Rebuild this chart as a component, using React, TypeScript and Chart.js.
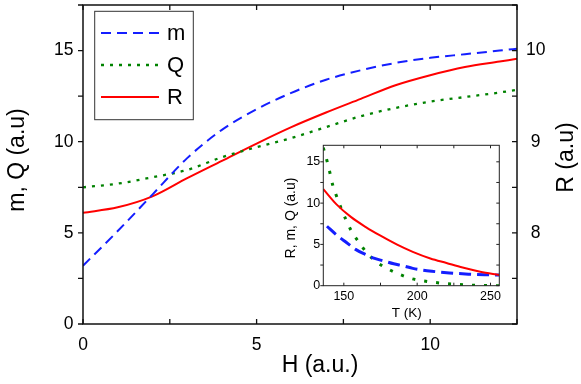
import React, { useEffect, useRef } from 'react';
import { Chart, registerables } from 'chart.js';

Chart.register(...registerables);

// ---------- main chart data ----------
const H_VALUES = [0, 1, 2, 3, 4, 5, 6, 7, 8, 9, 10, 11, 12, 12.5];
const M_VALUES = [3.2, 5.1, 7.1, 9.1, 10.65, 11.78, 12.68, 13.4, 13.92, 14.32, 14.6, 14.8, 15.0, 15.1];
const Q_VALUES = [7.5, 7.7, 8.05, 8.45, 9.15, 9.7, 10.2, 10.8, 11.4, 11.85, 12.2, 12.45, 12.7, 12.85];
const R_VALUES = [8.22, 8.28, 8.4, 8.6, 8.79, 8.98, 9.16, 9.32, 9.47, 9.62, 9.73, 9.82, 9.88, 9.91];
const SERIES_LABELS = ['m', 'Q', 'R'];

const MAIN_X_TICKS = [0, 2.5, 5, 7.5, 10, 12.5];
const MAIN_X_TICK_LABELS = [0, 5, 10];
const MAIN_Y_TICKS = [0, 2.5, 5, 7.5, 10, 12.5, 15, 17.5];
const MAIN_Y_TICK_LABELS = [0, 5, 10, 15];
const MAIN_Y2_TICKS = [7, 7.5, 8, 8.5, 9, 9.5, 10, 10.5];
const MAIN_Y2_TICK_LABELS = [8, 9, 10];

// ---------- inset data (temperature dependence) ----------
const INSET_R_T = [136, 145, 155, 165, 175, 186, 197, 209, 220, 231, 243, 256];
const INSET_R = [11.7, 9.85, 8.3, 7.1, 6.05, 5.0, 4.1, 3.3, 2.75, 2.2, 1.7, 1.3];
const INSET_M_T = [138.5, 145, 152, 158, 164.5, 171, 177, 184, 191, 197, 210, 222, 235, 246, 256];
const INSET_M = [7.2, 6.15, 5.2, 4.4, 3.8, 3.3, 3.0, 2.65, 2.38, 2.1, 1.75, 1.55, 1.4, 1.33, 1.3];
const INSET_Q_T = [136, 138.7, 140.6, 142.4, 145.1, 148.1, 151.3, 154.9, 159.9, 166.3, 173.5, 181.5, 189, 196.3, 212, 228, 245, 256];
const INSET_Q = [16.7, 15.0, 13.6, 12.2, 10.8, 9.4, 8.05, 6.7, 5.34, 3.85, 2.72, 1.9, 1.3, 0.85, 0.4, 0.15, 0.02, 0];

const INSET_X_TICKS = [150, 175, 200, 225, 250];
const INSET_X_TICK_LABELS = [150, 200, 250];
const INSET_Y_TICKS = [0, 2.5, 5, 7.5, 10, 12.5, 15];
const INSET_Y_TICK_LABELS = [0, 5, 10, 15];

const FONT = '"Liberation Sans", Arial, Helvetica, sans-serif';
const BLUE = 'rgb(20, 30, 255)';
const GREEN = 'rgb(0, 130, 0)';
const RED = 'rgb(255, 0, 0)';

const inList = (v: number, list: number[]) => list.some((l) => Math.abs(l - v) < 1e-6);
const setTicks = (values: number[]) => (s: any) => {
  s.ticks = values.map((value) => ({ value }));
};
const fitTo = (size: { width?: number; height?: number }) => (s: any) => {
  if (size.width !== undefined) s.width = size.width;
  if (size.height !== undefined) s.height = size.height;
  s.paddingTop = 0;
  s.paddingBottom = 0;
  s.paddingLeft = 0;
  s.paddingRight = 0;
};

const frameTicksPlugin = {
  id: 'frameTicks',
  beforeDraw(chart: any, _a: any, opts: any) {
    if (!opts || !opts.fill) return;
    const a = chart.chartArea;
    const ctx = chart.ctx;
    ctx.save();
    ctx.fillStyle = opts.fill;
    ctx.fillRect(a.left, a.top, a.right - a.left, a.bottom - a.top);
    ctx.restore();
  },
  afterDatasetsDraw(chart: any, _a: any, opts: any) {
    if (!opts || !opts.enabled) return;
    const { ctx, chartArea: a } = chart;
    const L = opts.tickLength;
    ctx.save();
    ctx.strokeStyle = opts.color;
    ctx.lineWidth = opts.tickWidth;
    ctx.setLineDash([]);
    ctx.beginPath();
    const xs = chart.scales.x;
    for (const t of xs.ticks) {
      const p = xs.getPixelForValue(t.value);
      ctx.moveTo(p, a.bottom);
      ctx.lineTo(p, a.bottom - L);
      ctx.moveTo(p, a.top);
      ctx.lineTo(p, a.top + L);
    }
    const ys = chart.scales.y;
    const y2 = chart.scales.y2;
    for (const t of ys.ticks) {
      const p = ys.getPixelForValue(t.value);
      ctx.moveTo(a.left, p);
      ctx.lineTo(a.left - opts.leftTickLength, p);
      if (!y2) {
        ctx.moveTo(a.right, p);
        ctx.lineTo(a.right - L, p);
      }
    }
    if (y2) {
      for (const t of y2.ticks) {
        const p = y2.getPixelForValue(t.value);
        ctx.moveTo(a.right, p);
        ctx.lineTo(a.right - L, p);
      }
    }
    ctx.stroke();
    ctx.lineWidth = opts.frameWidth;
    ctx.strokeRect(a.left, a.top, a.right - a.left, a.bottom - a.top);
    ctx.restore();
  },
};

const freeTextPlugin = {
  id: 'freeText',
  afterDraw(chart: any, _a: any, opts: any) {
    const items = (opts && opts.items) || [];
    const ctx = chart.ctx;
    for (const it of items) {
      ctx.save();
      ctx.translate(it.x, it.y);
      ctx.rotate(it.rotation || 0);
      ctx.font = it.font;
      ctx.fillStyle = '#000';
      ctx.textAlign = 'center';
      ctx.textBaseline = 'middle';
      ctx.fillText(it.text, 0, 0);
      ctx.restore();
    }
  },
};

const boxLegendPlugin = {
  id: 'boxLegend',
  afterDatasetsDraw(chart: any, _a: any, opts: any) {
    if (!opts || !opts.enabled) return;
    const a = chart.chartArea;
    const ctx = chart.ctx;
    const left = a.left + opts.offsetX;
    const top = a.top + opts.offsetY;
    ctx.save();
    ctx.fillStyle = '#fff';
    ctx.fillRect(left, top, opts.width, opts.height);
    ctx.strokeStyle = '#333';
    ctx.lineWidth = 1;
    ctx.strokeRect(left, top, opts.width, opts.height);
    chart.data.datasets.forEach((ds: any, i: number) => {
      const y = top + opts.firstRow + i * opts.rowGap;
      ctx.strokeStyle = ds.borderColor;
      ctx.lineWidth = ds.borderWidth;
      ctx.setLineDash(ds.borderDash || []);
      ctx.beginPath();
      ctx.moveTo(left + opts.sampleStart, y);
      ctx.lineTo(left + opts.sampleEnd, y);
      ctx.stroke();
      ctx.setLineDash([]);
      ctx.fillStyle = '#000';
      ctx.font = opts.font;
      ctx.textAlign = 'left';
      ctx.textBaseline = 'middle';
      ctx.fillText(ds.label, left + opts.textX, y + 1);
    });
    ctx.restore();
  },
};

const toPoints = (xs: number[], ys: number[]) => xs.map((x, i) => ({ x, y: ys[i] }));

export default function App() {
  const mainRef = useRef<HTMLCanvasElement | null>(null);
  const insetRef = useRef<HTMLCanvasElement | null>(null);

  useEffect(() => {
    if (!mainRef.current || !insetRef.current) return;

    const tickFont = { family: FONT, size: 17.5 };
    const main = new Chart(mainRef.current, {
      type: 'line',
      data: {
        datasets: [
          {
            label: SERIES_LABELS[0],
            data: toPoints(H_VALUES, M_VALUES),
            borderColor: BLUE,
            borderWidth: 2,
            borderDash: [10, 6],
            yAxisID: 'y',
            pointRadius: 0,
            cubicInterpolationMode: 'monotone',
            fill: false,
          },
          {
            label: SERIES_LABELS[1],
            data: toPoints(H_VALUES, Q_VALUES),
            borderColor: GREEN,
            borderWidth: 2.3,
            borderDash: [3, 6],
            yAxisID: 'y',
            pointRadius: 0,
            cubicInterpolationMode: 'monotone',
            fill: false,
          },
          {
            label: SERIES_LABELS[2],
            data: toPoints(H_VALUES, R_VALUES),
            borderColor: RED,
            borderWidth: 2,
            yAxisID: 'y2',
            pointRadius: 0,
            cubicInterpolationMode: 'monotone',
            fill: false,
          },
        ],
      } as any,
      options: {
        responsive: false,
        animation: false,
        devicePixelRatio: 1,
        layout: { padding: { top: 5, left: 0, right: 0, bottom: 0 } },
        plugins: {
          legend: { display: false },
          tooltip: { enabled: false },
          frameTicks: {
            enabled: true,
            color: '#111',
            tickLength: 5,
            leftTickLength: 5,
            tickWidth: 1.3,
            frameWidth: 1.5,
          },
          boxLegend: {
            enabled: true,
            offsetX: 11.7,
            offsetY: 6.3,
            width: 98.6,
            height: 108.4,
            firstRow: 21.7,
            rowGap: 32,
            sampleStart: 6.3,
            sampleEnd: 64.3,
            textX: 72.3,
            font: `22px ${FONT}`,
          },
          freeText: {
            items: [
              { text: 'H (a.u.)', x: 320, y: 366, rotation: 0, font: `23px ${FONT}` },
              { text: 'm, Q (a.u)', x: 18, y: 160, rotation: -Math.PI / 2, font: `23px ${FONT}` },
              { text: 'R (a.u)', x: 567, y: 157.5, rotation: -Math.PI / 2, font: `23px ${FONT}` },
            ],
          },
        } as any,
        scales: {
          x: {
            type: 'linear',
            min: 0,
            max: 12.5,
            grid: { display: false, drawTicks: false },
            border: { display: false },
            afterBuildTicks: setTicks(MAIN_X_TICKS),
            ticks: {
              autoSkip: false,
              maxRotation: 0,
              padding: 10.5,
              color: '#000',
              font: tickFont,
              callback: (v: any) => (inList(Number(v), MAIN_X_TICK_LABELS) ? String(v) : ''),
            },
            afterFit: fitTo({ height: 60 }),
          },
          y: {
            type: 'linear',
            position: 'left',
            min: 0,
            max: 17.5,
            grid: { display: false, drawTicks: false },
            border: { display: false },
            afterBuildTicks: setTicks(MAIN_Y_TICKS),
            ticks: {
              autoSkip: false,
              padding: 9.5,
              color: '#000',
              font: tickFont,
              callback: (v: any) => (inList(Number(v), MAIN_Y_TICK_LABELS) ? String(v) : ''),
            },
            afterFit: fitTo({ width: 83 }),
          },
          y2: {
            type: 'linear',
            position: 'right',
            min: 7,
            max: 10.5,
            grid: { display: false, drawTicks: false },
            border: { display: false },
            afterBuildTicks: setTicks(MAIN_Y2_TICKS),
            ticks: {
              autoSkip: false,
              padding: 9,
              crossAlign: 'center',
              color: '#000',
              font: tickFont,
              callback: (v: any) => (inList(Number(v), MAIN_Y2_TICK_LABELS) ? String(v) : ''),
            },
            afterFit: fitTo({ width: 64 }),
          },
        } as any,
      },
      plugins: [frameTicksPlugin, boxLegendPlugin, freeTextPlugin],
    });

    const insetTickFont = { family: FONT, size: 12.5 };
    const inset = new Chart(insetRef.current, {
      type: 'line',
      data: {
        datasets: [
          {
            label: 'R',
            data: toPoints(INSET_R_T, INSET_R),
            borderColor: RED,
            borderWidth: 2,
            pointRadius: 0,
            cubicInterpolationMode: 'monotone',
            fill: false,
          },
          {
            label: 'm',
            data: toPoints(INSET_M_T, INSET_M),
            borderColor: BLUE,
            borderWidth: 3,
            borderDash: [12, 6],
            pointRadius: 0,
            cubicInterpolationMode: 'monotone',
            fill: false,
          },
          {
            label: 'Q',
            data: toPoints(INSET_Q_T, INSET_Q),
            borderColor: GREEN,
            borderWidth: 3,
            borderDash: [3, 9],
            pointRadius: 0,
            cubicInterpolationMode: 'monotone',
            fill: false,
          },
        ],
      } as any,
      options: {
        responsive: false,
        animation: false,
        devicePixelRatio: 1,
        layout: { padding: { top: 5.3, left: 0, right: 10.7, bottom: 0 } },
        plugins: {
          legend: { display: false },
          tooltip: { enabled: false },
          frameTicks: {
            enabled: true,
            fill: '#fff',
            color: '#222',
            tickLength: 3,
            leftTickLength: 3,
            tickWidth: 1,
            frameWidth: 1,
          },
          freeText: {
            items: [
              { text: 'T (K)', x: 136.7, y: 173.3, rotation: 0, font: `13.5px ${FONT}` },
              { text: 'R, m, Q (a.u)', x: 20.7, y: 78, rotation: -Math.PI / 2, font: `14px ${FONT}` },
            ],
          },
        } as any,
        scales: {
          x: {
            type: 'linear',
            min: 136,
            max: 256,
            grid: { display: false, drawTicks: false },
            border: { display: false },
            afterBuildTicks: setTicks(INSET_X_TICKS),
            ticks: {
              autoSkip: false,
              maxRotation: 0,
              padding: 3.5,
              color: '#000',
              font: insetTickFont,
              callback: (v: any) => (inList(Number(v), INSET_X_TICK_LABELS) ? String(v) : ''),
            },
            afterFit: fitTo({ height: 39.3 }),
          },
          y: {
            type: 'linear',
            position: 'left',
            min: 0,
            max: 17,
            grid: { display: false, drawTicks: false },
            border: { display: false },
            afterBuildTicks: setTicks(INSET_Y_TICKS),
            ticks: {
              autoSkip: false,
              padding: 3,
              color: '#000',
              font: insetTickFont,
              callback: (v: any) => (inList(Number(v), INSET_Y_TICK_LABELS) ? String(v) : ''),
            },
            afterFit: fitTo({ width: 53.3 }),
          },
        } as any,
      },
      plugins: [frameTicksPlugin, freeTextPlugin],
    });

    return () => {
      main.destroy();
      inset.destroy();
    };
  }, []);

  return (
    <div style={{ position: 'absolute', left: 0, top: 0, width: 581, height: 384, background: '#fff' }}>
      <canvas
        ref={mainRef}
        width={581}
        height={384}
        style={{ position: 'absolute', left: 0, top: 0, width: 581, height: 384, display: 'block' }}
      />
      <canvas
        ref={insetRef}
        width={240}
        height={185}
        style={{ position: 'absolute', left: 270, top: 140, width: 240, height: 185, display: 'block' }}
      />
    </div>
  );
}
